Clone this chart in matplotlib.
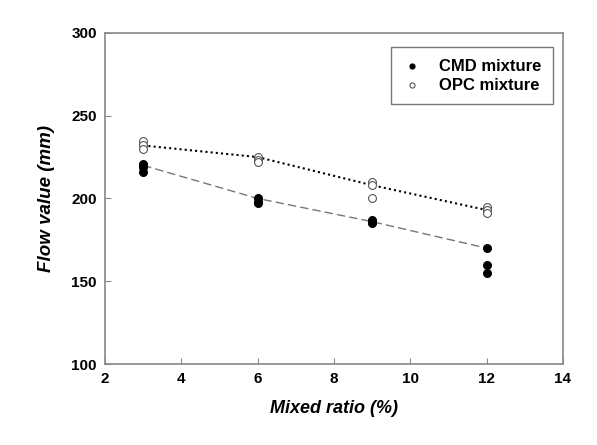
import matplotlib as mpl
mpl.rcParams.update({
    "font.family": "sans-serif",
    "font.sans-serif": ["Liberation Sans", "DejaVu Sans"],
})
import matplotlib.pyplot as plt

# raw measurements (three specimens per mixed ratio)
ratio = [3, 3, 3, 6, 6, 6, 9, 9, 9, 12, 12, 12]
cmd_flow = [221, 219, 216, 200, 198, 197, 187, 186, 185, 170, 160, 155]
opc_flow = [235, 232, 230, 225, 223, 222, 210, 208, 200, 195, 193, 191]

# trend lines
trend_x = [3, 6, 9, 12]
cmd_trend = [220, 200, 186, 170]
opc_trend = [232, 225, 208, 193]

fig = plt.figure(figsize=(5.97, 4.45), dpi=100)
ax = fig.add_axes([0.176, 0.182, 0.767, 0.744])

ax.plot(trend_x, cmd_trend, color='#777777', linestyle=(0, (6, 3)), lw=1.0, zorder=1)
ax.plot(trend_x, opc_trend, color='k', linestyle=(0, (1, 1.5)), lw=1.5, zorder=1)

ax.scatter(ratio, cmd_flow, s=32, c='k', edgecolors='k', linewidths=0.8, label='CMD mixture', zorder=3)
ax.scatter(ratio, opc_flow, s=32, facecolors='white', edgecolors='#555555', linewidths=0.8, label='OPC mixture', zorder=3)

ax.set_xlim(2, 14)
ax.set_ylim(100, 300)
ax.set_xticks([2, 4, 6, 8, 10, 12, 14])
ax.set_yticks([100, 150, 200, 250, 300])

for s in ax.spines.values():
    s.set_color('#888888')
    s.set_linewidth(1.2)
ax.tick_params(direction='in', length=4, color='#888888', labelsize=11, pad=6)
for lab in ax.get_xticklabels() + ax.get_yticklabels():
    lab.set_fontweight('bold')

ax.set_xlabel('Mixed ratio (%)', fontsize=13, fontweight='bold', fontstyle='italic', labelpad=10)
ax.set_ylabel('Flow value (mm)', fontsize=13.5, fontweight='bold', fontstyle='italic', labelpad=12)

leg = ax.legend(loc='upper right', bbox_to_anchor=(0.978, 0.958), borderaxespad=0,
                frameon=True, fancybox=False,
                prop={'weight': 'bold', 'size': 12}, handletextpad=1.0, borderpad=0.7,
                handlelength=1.2, markerscale=0.65, labelspacing=0.25)
leg.get_frame().set_edgecolor('#555555')
leg.get_frame().set_linewidth(1.0)

plt.savefig('out.png', dpi=100)
